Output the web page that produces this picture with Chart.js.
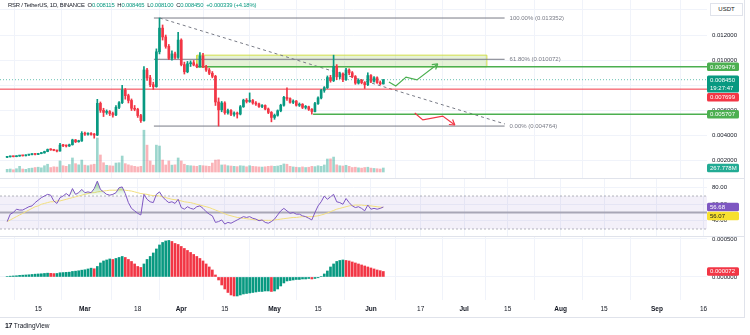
<!DOCTYPE html>
<html>
<head>
<meta charset="utf-8">
<title>RSR / TetherUS 1D</title>
<script src="https://cdn.jsdelivr.net/npm/chart.js@4.4.1/dist/chart.umd.min.js"></script>
<style>
  html, body { margin: 0; padding: 0; background: #fff; }
  #wrap { position: relative; width: 750px; height: 335px; overflow: hidden; font-family: "Liberation Sans", Arial, sans-serif; color: #131722; }
  #wrap canvas { position: absolute; left: 0; }
  .hdr { position: absolute; left: 8px; top: 2px; font-size: 5.9px; letter-spacing: -0.2px; white-space: nowrap; }
  .hdr span { color: #089981; }
  .sep { position: absolute; left: 0; width: 744px; height: 1px; background: #e0e3eb; }
  .frame { position: absolute; left: 744px; top: 0; width: 1px; height: 318px; background: #e0e3eb; }
  .usdt { position: absolute; left: 710px; top: 3px; width: 31px; height: 11px; border: 1px solid #e0e3eb; background: #fff; font-size: 6px; line-height: 11px; text-align: center; }
  .logo { position: absolute; left: 5px; top: 322px; font-size: 6.5px; color: #131722; }
  .logo b { font-size: 7px; letter-spacing: -0.5px; margin-right: 2px; }
</style>
</head>
<body>
<div id="wrap">
  <canvas id="price" width="750" height="178" style="top:0"></canvas>
  <canvas id="rsi" width="750" height="58" style="top:178px"></canvas>
  <canvas id="macd" width="750" height="82" style="top:236px"></canvas>
  <div class="sep" style="top:178px"></div>
  <div class="sep" style="top:236px"></div>
  <div class="sep" style="top:317px"></div>
  <div class="frame"></div>
  <div class="usdt">USDT</div>
  <div class="hdr">RSR / TetherUS, 1D, BINANCE&nbsp; O<span>0.008115</span>&nbsp; H<span>0.008465</span>&nbsp; L<span>0.008100</span>&nbsp; C<span>0.008450</span>&nbsp; <span>+0.000339 (+4.18%)</span></div>
  <div class="logo"><b>17</b>TradingView</div>
</div>
<script>
// days are counted from 2024-03-01 (day 0); first candle is 2024-02-05
const firstDay = -25;

const opens = [0.00228,0.00232,0.00235,0.00233,0.00238,0.00242,0.00240,0.00246,0.00250,0.00253,
  0.00251,0.00258,0.00263,0.00274,0.00290,0.00287,0.00283,0.00278,0.00325,0.00320,
  0.00318,0.00328,0.00366,0.00352,0.00358,0.00419,0.00412,0.00416,0.00410,0.00405,
  0.00657,0.00602,0.00585,0.00592,0.00576,0.00565,0.00625,0.00662,0.00763,0.00718,
  0.00680,0.00618,0.00610,0.00560,0.00520,0.00922,0.00860,0.00805,0.00790,0.01067,
  0.01255,0.01185,0.01110,0.01015,0.01050,0.01022,0.01160,0.00965,0.00908,0.00972,
  0.00980,0.00962,0.00948,0.01033,0.00948,0.00922,0.00896,0.00872,0.00668,0.00605,
  0.00660,0.00582,0.00600,0.00570,0.00580,0.00572,0.00630,0.00682,0.00672,0.00680,
  0.00660,0.00652,0.00632,0.00640,0.00612,0.00585,0.00545,0.00562,0.00598,0.00642,
  0.00705,0.00695,0.00665,0.00675,0.00642,0.00650,0.00625,0.00630,0.00610,0.00592,
  0.00655,0.00700,0.00760,0.00782,0.00862,0.00838,0.00952,0.00868,0.00892,0.00845,
  0.00922,0.00900,0.00870,0.00818,0.00840,0.00822,0.00805,0.00878,0.00832,0.00860,
  0.00822,0.008115];
const highs = [0.00234,0.00237,0.00237,0.00240,0.00244,0.00244,0.00248,0.00252,0.00256,0.00255,
  0.00260,0.00266,0.00277,0.00294,0.00296,0.00292,0.00286,0.00340,0.00332,0.00326,
  0.00333,0.00372,0.00370,0.00364,0.00432,0.00428,0.00422,0.00424,0.00418,0.00689,
  0.00668,0.00618,0.00605,0.00600,0.00588,0.00640,0.00672,0.00800,0.00775,0.00730,
  0.00692,0.00640,0.00618,0.00570,0.00950,0.00935,0.00880,0.00825,0.01090,0.013352,
  0.01280,0.01200,0.01125,0.01075,0.01065,0.01222,0.01170,0.00985,0.00990,0.00995,
  0.00998,0.00970,0.01060,0.01055,0.00960,0.00935,0.00910,0.00880,0.00700,0.00672,
  0.00670,0.00612,0.00608,0.00590,0.00588,0.00640,0.00690,0.00695,0.00740,0.00688,
  0.00672,0.00660,0.00648,0.00645,0.00620,0.00592,0.00572,0.00605,0.00650,0.00712,
  0.00780,0.00700,0.00685,0.00680,0.00660,0.00655,0.00640,0.00635,0.00615,0.00665,
  0.00708,0.00768,0.00790,0.00875,0.00880,0.01040,0.00965,0.00905,0.00900,0.00935,
  0.00932,0.00910,0.00878,0.00852,0.00848,0.00830,0.00900,0.00885,0.00870,0.00868,
  0.00835,0.008465];
const lows = [0.00226,0.00230,0.00231,0.00232,0.00236,0.00238,0.00239,0.00244,0.00248,0.00248,
  0.00249,0.00256,0.00261,0.00272,0.00284,0.00280,0.00270,0.00276,0.00312,0.00310,
  0.00314,0.00325,0.00345,0.00348,0.00355,0.00402,0.00405,0.00404,0.00380,0.00400,
  0.00585,0.00552,0.00570,0.00560,0.00548,0.00560,0.00615,0.00655,0.00690,0.00660,
  0.00600,0.00598,0.00545,0.00505,0.00515,0.00840,0.00790,0.00768,0.00785,0.01050,
  0.01160,0.01095,0.01005,0.01000,0.01010,0.01015,0.00955,0.00890,0.00900,0.00950,
  0.00955,0.00940,0.00945,0.00940,0.00910,0.00885,0.00860,0.00640,0.004764,0.00590,
  0.00570,0.00570,0.00560,0.00555,0.00540,0.00565,0.00625,0.00660,0.00665,0.00650,
  0.00640,0.00625,0.00622,0.00605,0.00575,0.00510,0.00530,0.00555,0.00590,0.00635,
  0.00680,0.00658,0.00655,0.00635,0.00632,0.00615,0.00612,0.00600,0.005707,0.00588,
  0.00648,0.00692,0.00745,0.00775,0.00825,0.00830,0.00845,0.00852,0.00830,0.00840,
  0.00885,0.00860,0.00808,0.00810,0.00812,0.00775,0.00798,0.00822,0.00825,0.00815,
  0.00805,0.008100];
const closes = [0.00232,0.00235,0.00233,0.00238,0.00242,0.00240,0.00246,0.00250,0.00253,0.00251,
  0.00258,0.00263,0.00274,0.00290,0.00287,0.00283,0.00278,0.00325,0.00320,0.00318,
  0.00328,0.00366,0.00352,0.00358,0.00419,0.00412,0.00416,0.00410,0.00405,0.00657,
  0.00602,0.00585,0.00592,0.00576,0.00565,0.00625,0.00662,0.00763,0.00718,0.00680,
  0.00618,0.00610,0.00560,0.00520,0.00922,0.00860,0.00805,0.00790,0.01067,0.01255,
  0.01185,0.01110,0.01015,0.01050,0.01022,0.01160,0.00965,0.00908,0.00972,0.00980,
  0.00962,0.00948,0.01033,0.00948,0.00922,0.00896,0.00872,0.00668,0.00605,0.00660,
  0.00582,0.00600,0.00570,0.00580,0.00572,0.00630,0.00682,0.00672,0.00680,0.00660,
  0.00652,0.00632,0.00640,0.00612,0.00585,0.00545,0.00562,0.00598,0.00642,0.00705,
  0.00695,0.00665,0.00675,0.00642,0.00650,0.00625,0.00630,0.00610,0.00592,0.00655,
  0.00700,0.00760,0.00782,0.00862,0.00838,0.00952,0.00868,0.00892,0.00845,0.00922,
  0.00900,0.00870,0.00818,0.00840,0.00822,0.00805,0.00878,0.00832,0.00860,0.00822,
  0.008115,0.008450];
// volume in millions of RSR
const volumes = [180,200,150,220,380,200,180,240,260,300,
  320,280,420,520,300,350,330,740,420,380,
  500,940,560,480,800,460,420,480,520,2280,
  1140,620,450,420,400,600,620,1070,560,480,
  420,380,340,380,2800,1800,740,460,1800,1740,
  800,470,740,460,480,940,740,520,440,420,
  400,380,440,420,400,380,600,800,820,470,
  480,420,400,380,360,420,400,350,420,380,
  360,340,330,350,380,400,380,400,450,540,
  520,380,340,320,300,340,300,320,380,360,
  420,380,470,870,880,1000,480,420,400,450,
  380,300,320,280,260,300,320,260,240,220,
  200,267.778];
const rsiValues = [39,48,50,54,53,53,55,57,58,62,
  65,68,70,72,71,64,61,68,70,73,
  70,79,72,74,78,74,75,74,79,88,
  78,75,72,71,72,74,80,81,73,62,
  55,52,49,47,72,66,63,62,72,75,
  69,65,62,63,61,66,56,54,57,55,
  54,57,58,55,51,48,46,38,39,41,
  36,38,37,39,41,43,45,44,45,43,
  42,40,41,38,37,39,42,47,52,55,
  52,49,50,48,48,46,45,43,41,50,
  58,63,70,66,69,72,63,62,60,67,
  62,58,56,57,55,52,59,54,55,54,
  55,56.68];
const rsiMa = [39,41,43,45,47,49,51,53,55,57,
  58,60,61,62,63,63,64,64,65,66,
  67,68,69,70,71,72,73,74,74,75,
  75.5,76,76.5,77,77,77,77.5,77.5,77,76.5,
  76,75,74,73,72.5,72,71,70.5,70.5,70,
  69,68,67,66,65.5,65,64,63,62.5,62,
  61,60,59,58,57,56,54.5,53,51.5,50,
  48.5,47,46,45,44,43.5,43,42.5,42,41.5,
  41,41,40.5,40.5,40.5,40.5,41,41.5,42,42.5,
  43,43.5,44,44,44.5,45,45,45,45,45.5,
  46,47,48,49.5,51,52.5,54,55,56,57,
  58,58.5,59,59,59,58.5,58.5,58,57.5,57,
  56.5,56.07];
const macdHist = [0.0000066,0.0000105,0.0000132,0.0000158,0.0000211,0.0000237,0.0000263,0.0000289,0.0000329,0.0000368,
  0.0000395,0.0000421,0.0000461,0.0000500,0.0000474,0.0000447,0.0000461,0.0000553,0.0000579,0.0000605,
  0.0000632,0.0000724,0.0000763,0.0000816,0.0000895,0.0000947,0.0001053,0.0001158,0.0001079,
  0.0001382,0.0001842,0.0002105,0.0002237,0.0002368,0.0002303,0.0002434,0.0002566,0.0002697,0.0002566,
  0.0002303,0.0002039,0.0001711,0.0001382,0.0001250,
  0.0001711,0.0002303,0.0002697,0.0003158,0.0003684,0.0004211,0.0004540,0.0004737,0.0004803,
  0.0004671,0.0004408,0.0004276,0.0004013,0.0003750,0.0003487,0.0003224,0.0002961,0.0002697,0.0002434,
  0.0002105,0.0001711,0.0001316,0.0000921,
  0.0000263,-0.0000395,-0.0001053,-0.0001579,-0.0002040,-0.0002368,-0.0002500,-0.0002500,-0.0002368,
  -0.0002237,-0.0002171,-0.0002105,-0.0002040,-0.0001974,-0.0001908,-0.0001908,-0.0001842,-0.0001842,-0.0001908,
  -0.0001842,-0.0001579,-0.0001184,-0.0000789,-0.0000526,-0.0000461,
  -0.0000395,-0.0000329,-0.0000329,-0.0000263,-0.0000263,-0.0000197,-0.0000263,-0.0000197,-0.0000105,
  0.0000066,0.0000395,0.0000789,0.0001316,0.0001711,0.0002040,0.0002171,0.0002237,
  0.0002171,0.0002105,0.0001974,0.0001842,0.0001711,0.0001579,0.0001447,0.0001316,0.0001184,0.0001053,
  0.0000921,0.0000829,0.0000722];

// axis ticks (days from 2024-03-01)
const tickDays = [-15, 0, 17, 31, 45, 61, 75, 92, 108, 122, 136, 153, 167, 184, 199];
const tickLabels = ['15','Mar','18','Apr','15','May','15','Jun','17','Jul','15','Aug','15','Sep','16'];
const monthTicks = [0, 31, 61, 92, 122, 153, 184];
const priceTicks = [0.002, 0.004, 0.006, 0.008, 0.010, 0.012, 0.014];
const rsiTicks = [40, 60, 80];
const macdTicks = [0, 0.0005];

// drawings on the price pane
const fibLevels = [0.013352, 0.010072, 0.004764];
const fibNames = ['100.00%', '61.80%', '0.00%'];
const fibSpan = [22.2, 135];
const zoneTop = 0.01040, zoneBottom = 0.009476, zoneSpan = [36, 129.3];
const resistLevel = 0.009476, resistFrom = 36;
const pivotLevel = 0.007699;
const supportLevel = 0.005707, supportFrom = 73.4;
const lastPrice = 0.008450;
const trendLine = [[24.1, 0.013352], [135.1, 0.00493]];
const bullPath = [[97.8, 0.00827], [100, 0.00795], [103.3, 0.00866], [106.8, 0.00843], [113.5, 0.00970]];
const bearPath = [[106.1, 0.00580], [108.7, 0.00525], [115.1, 0.00556], [119, 0.00485]];

const X_MIN = -27.3, X_MAX = 200.1;
const TEAL = '#089981', RED = '#f23645', GREEN = '#4caf50', GREY = '#787b86', GRID = '#f0f3fa';
const FONT = '"Liberation Sans", Arial, sans-serif';

const days = closes.map((_, i) => firstDay + i);
const isUp = closes.map((c, i) => c >= opens[i]);
const pts = arr => arr.map(p => ({ x: p[0], y: p[1] }));
const seg = (x0, x1, y) => [{ x: x0, y }, { x: x1, y }];

function xAxis(withLabels) {
  return {
    type: 'linear', min: X_MIN, max: X_MAX, offset: false,
    grid: { color: GRID, drawTicks: false },
    border: { display: false },
    afterBuildTicks: s => { s.ticks = tickDays.map(v => ({ value: v })); },
    ticks: withLabels ? {
      autoSkip: false, maxRotation: 0, padding: 5, color: '#131722',
      font: c => ({ family: FONT, size: 6.5, weight: monthTicks.includes(c.tick && c.tick.value) ? 'bold' : 'normal' }),
      callback: v => tickLabels[tickDays.indexOf(v)]
    } : { display: false },
    afterFit: s => { s.height = withLabels ? 18 : 0; s.paddingLeft = 0; s.paddingRight = 0; }
  };
}
function yAxis(min, max, ticks, digits) {
  return {
    position: 'right', min, max,
    grid: { color: GRID, drawTicks: false },
    border: { display: false },
    afterBuildTicks: s => { s.ticks = ticks.map(v => ({ value: v })); },
    ticks: { padding: 5, color: '#131722', font: { family: FONT, size: 6 }, callback: v => v.toFixed(digits) },
    afterFit: s => { s.width = 43; s.paddingTop = 0; s.paddingBottom = 0; }
  };
}
const line = (data, color, width, extra) => Object.assign({
  type: 'line', data, borderColor: color, borderWidth: width, pointRadius: 0, tension: 0, fill: false, order: 5
}, extra || {});

// coloured value tags on the right axis, pushed down when they overlap
const axisTags = {
  id: 'axisTags',
  afterDraw(chart, args, opts) {
    const ctx = chart.ctx, x0 = chart.chartArea.right;
    const items = (opts.tags || []).map(t => Object.assign({ py: chart.scales[t.axis || 'y'].getPixelForValue(t.value) }, t))
      .sort((a, b) => a.py - b.py);
    let last = -1e9;
    ctx.save();
    ctx.font = '6px ' + FONT;
    ctx.textBaseline = 'middle';
    for (const t of items) {
      const h = 8.5 * t.lines.length;
      let top = t.py - 4.25;
      if (top < last + 0.5) top = last + 0.5;
      ctx.fillStyle = t.bg;
      ctx.beginPath();
      ctx.roundRect(x0, top, 32, h, 1.5);
      ctx.fill();
      ctx.fillStyle = t.fg || '#fff';
      t.lines.forEach((s, i) => ctx.fillText(s, x0 + 3, top + 4.5 + i * 8.5));
      last = top + h;
    }
    ctx.restore();
  }
};
// text notes placed in data coordinates
const notes = {
  id: 'notes',
  afterDatasetsDraw(chart, args, opts) {
    const ctx = chart.ctx, xs = chart.scales.x, ys = chart.scales.y;
    ctx.save();
    ctx.font = '6px ' + FONT;
    ctx.textBaseline = 'middle';
    for (const n of opts.items || []) {
      ctx.fillStyle = n.color;
      ctx.fillText(n.text, xs.getPixelForValue(n.x) + 5, ys.getPixelForValue(n.y));
    }
    ctx.restore();
  }
};
// arrow heads at the end of datasets flagged with arrow:true
const arrowHeads = {
  id: 'arrowHeads',
  afterDatasetsDraw(chart) {
    const ctx = chart.ctx;
    chart.data.datasets.forEach((ds, i) => {
      if (!ds.arrow) return;
      const el = chart.getDatasetMeta(i).data;
      const a = el[el.length - 2], b = el[el.length - 1];
      const ang = Math.atan2(b.y - a.y, b.x - a.x);
      ctx.save();
      ctx.strokeStyle = ds.borderColor;
      ctx.lineWidth = ds.borderWidth;
      ctx.beginPath();
      [-0.55, 0.55].forEach(d => {
        ctx.moveTo(b.x, b.y);
        ctx.lineTo(b.x - 6 * Math.cos(ang + d), b.y - 6 * Math.sin(ang + d));
      });
      ctx.stroke();
      ctx.restore();
    });
  }
};

const base = {
  responsive: false, animation: false, devicePixelRatio: 1, events: [],
  layout: { padding: 0, autoPadding: false },
  plugins: { legend: { display: false }, tooltip: { enabled: false } }
};

// ---------- price pane ----------
new Chart(document.getElementById('price'), {
  type: 'bar',
  data: {
    datasets: [
      { type: 'bar', yAxisID: 'vol', order: 20, barThickness: 2,
        data: volumes.map((v, i) => ({ x: days[i], y: v })),
        backgroundColor: isUp.map(u => u ? 'rgba(8,153,129,0.4)' : 'rgba(242,54,69,0.38)') },
      line(seg(zoneSpan[0], zoneSpan[1], zoneTop), 'rgba(205,220,57,0.9)', 1,
        { fill: { target: { value: zoneBottom } }, backgroundColor: 'rgba(139,195,74,0.22)', order: 15 }),
      line(pts([[zoneSpan[0], zoneTop], [zoneSpan[0], zoneBottom], [zoneSpan[1], zoneBottom], [zoneSpan[1], zoneTop]]),
        'rgba(205,220,57,0.9)', 1, { order: 14 }),
      ...fibLevels.map(l => line(seg(fibSpan[0], fibSpan[1], l), GREY, 1, { order: 13 })),
      line(pts(trendLine), GREY, 1, { borderDash: [3, 3], order: 12 }),
      line(seg(X_MIN, X_MAX, lastPrice), 'rgba(8,153,129,0.6)', 1, { borderDash: [1, 2], order: 11 }),
      line(seg(X_MIN, X_MAX, pivotLevel), RED, 1, { order: 10 }),
      line(seg(resistFrom, X_MAX, resistLevel), GREEN, 1.5, { order: 9 }),
      line(seg(supportFrom, X_MAX, supportLevel), GREEN, 1.5, { order: 9 }),
      { type: 'bar', order: 3, barThickness: 1, grouped: false,
        data: days.map((d, i) => ({ x: d, y: [lows[i], highs[i]] })),
        backgroundColor: isUp.map(u => u ? TEAL : RED) },
      { type: 'bar', order: 2, barThickness: 2, grouped: false, minBarLength: 1,
        data: days.map((d, i) => ({ x: d, y: [opens[i], closes[i]] })),
        backgroundColor: isUp.map(u => u ? TEAL : RED) },
      line(pts(bullPath), GREEN, 1.2, { arrow: true, order: 1 }),
      line(pts(bearPath), RED, 1.2, { arrow: true, order: 1 })
    ]
  },
  options: Object.assign({}, base, {
    scales: {
      x: xAxis(false),
      y: yAxis(0.000636, 0.014785, priceTicks, 6),
      vol: { display: false, min: -402, max: 11524 }
    },
    plugins: Object.assign({}, base.plugins, {
      axisTags: { tags: [
        { value: resistLevel, lines: [resistLevel.toFixed(6)], bg: GREEN },
        { value: lastPrice, lines: [lastPrice.toFixed(6), '19:27:47'], bg: TEAL },
        { value: pivotLevel, lines: [pivotLevel.toFixed(6)], bg: RED },
        { value: supportLevel, lines: [supportLevel.toFixed(6)], bg: GREEN },
        { axis: 'vol', value: volumes[volumes.length - 1], lines: [volumes[volumes.length - 1].toFixed(3) + 'M'], bg: '#22ab94' }
      ] },
      notes: { items: fibLevels.map((l, i) => ({ x: fibSpan[1], y: l, text: fibNames[i] + ' (' + l.toFixed(6) + ')', color: GREY })) }
    })
  }),
  plugins: [axisTags, notes, arrowHeads]
});

// ---------- RSI pane ----------
new Chart(document.getElementById('rsi'), {
  type: 'line',
  data: {
    datasets: [
      line(seg(X_MIN, X_MAX, 70), 'rgba(120,123,134,0.55)', 1,
        { borderDash: [2, 2], fill: { target: { value: 30 } }, backgroundColor: 'rgba(126,87,194,0.09)', order: 9 }),
      line(seg(X_MIN, X_MAX, 30), 'rgba(120,123,134,0.55)', 1, { borderDash: [2, 2], order: 9 }),
      line(seg(X_MIN, X_MAX, 50), '#a8a6b6', 2, { order: 8 }),
      line(rsiMa.map((v, i) => ({ x: days[i], y: v })), '#f2df7f', 1, { order: 3 }),
      line(rsiValues.map((v, i) => ({ x: days[i], y: v })), '#7e57c2', 1, {
        order: 2,
        fill: { target: { value: 70 }, below: 'rgba(0,0,0,0)' },
        backgroundColor: c => {
          const ch = c.chart;
          if (!ch.chartArea) return 'rgba(0,0,0,0)';
          const y = ch.scales.y;
          const g = ch.ctx.createLinearGradient(0, y.getPixelForValue(92), 0, y.getPixelForValue(70));
          g.addColorStop(0, 'rgba(76,175,80,0.75)');
          g.addColorStop(1, 'rgba(76,175,80,0)');
          return g;
        }
      })
    ]
  },
  options: Object.assign({}, base, {
    scales: { x: xAxis(false), y: yAxis(21.52, 91.82, rsiTicks, 2) },
    plugins: Object.assign({}, base.plugins, {
      axisTags: { tags: [
        { value: rsiValues[rsiValues.length - 1], lines: [rsiValues[rsiValues.length - 1].toFixed(2)], bg: '#7e57c2' },
        { value: rsiMa[rsiMa.length - 1], lines: [rsiMa[rsiMa.length - 1].toFixed(2)], bg: '#f7e02e', fg: '#131722' }
      ] }
    })
  }),
  plugins: [axisTags]
});

// ---------- MACD histogram pane + date axis ----------
new Chart(document.getElementById('macd'), {
  type: 'bar',
  data: {
    datasets: [{
      barThickness: 2,
      data: macdHist.map((v, i) => ({ x: days[i], y: v })),
      backgroundColor: macdHist.map((v, i) => (i > 0 && v < macdHist[i - 1]) ? RED : TEAL)
    }]
  },
  options: Object.assign({}, base, {
    scales: { x: xAxis(true), y: yAxis(-0.000303, 0.000539, macdTicks, 6) },
    plugins: Object.assign({}, base.plugins, {
      axisTags: { tags: [
        { value: macdHist[macdHist.length - 1], lines: [macdHist[macdHist.length - 1].toFixed(6)], bg: RED }
      ] }
    })
  }),
  plugins: [axisTags]
});
</script>
</body>
</html>
